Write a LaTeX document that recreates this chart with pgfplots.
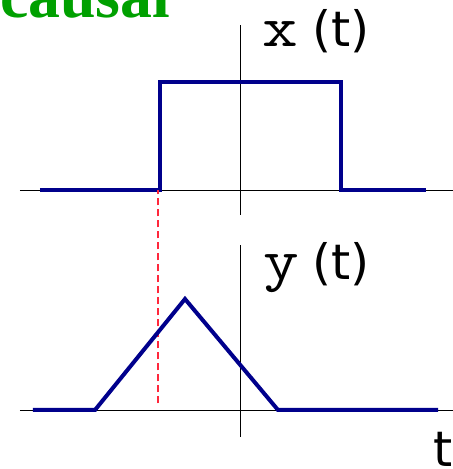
\documentclass[border=0pt]{standalone}
\usepackage{pgfplots}
\pgfplotsset{compat=1.18}
\usepackage{fontspec}
\newfontfamily\titlefont{Liberation Serif}
\newfontfamily\dvs{DejaVu Sans}
\definecolor{navyline}{RGB}{0,0,140}
\definecolor{causalgreen}{RGB}{0,160,0}
\definecolor{dashred}{RGB}{255,40,60}
\pgfplotsset{sigaxis/.style={x=40bp, xmin=-5.5, xmax=5.325,
  axis lines=middle, axis line style={-, black, line width=0.9bp},
  ticks=none, enlargelimits=false, clip=false, anchor=origin}}
\begin{document}
\begin{tikzpicture}
\begin{axis}[sigaxis, y=108bp, ymin=-0.231, ymax=1.528, at={(240bp,279bp)}]
\addplot[navyline, line width=4bp, line join=miter] coordinates {(-5,0) (-2,0) (-2,1) (2.525,1) (2.525,0) (4.65,0)};
\end{axis}
\begin{axis}[sigaxis, y=111bp, ymin=-0.243, ymax=1.486, at={(240bp,59bp)}]
\addplot[dashred, line width=1.5bp, dash pattern=on 7bp off 4bp] coordinates {(-2.05,0.06) (-2.05,1.98)};
\addplot[navyline, line width=4bp, line join=miter] coordinates {(-5.175,0) (-3.625,0) (-1.375,1) (0.95,0) (4.95,0)};
\end{axis}
\node[anchor=base west, inner sep=0pt, text=causalgreen] at (0bp,451bp) {\titlefont\bfseries\fontsize{64}{70}\selectfont causal};
\node[anchor=base, inner sep=0pt] at (280.5bp,422bp) {\scalebox{1.2}[1]{\ttfamily\fontsize{58}{60}\selectfont x}};
\node[anchor=base, inner sep=0pt] at (341bp,422bp) {\dvs\fontsize{49}{52}\selectfont (t)};
\node[anchor=base, inner sep=0pt] at (281bp,189bp) {\scalebox{1.2}[1]{\ttfamily\fontsize{58}{60}\selectfont y}};
\node[anchor=base, inner sep=0pt] at (341bp,189bp) {\dvs\fontsize{49}{52}\selectfont (t)};
\node[anchor=base west, inner sep=0pt] at (433bp,3bp) {\dvs\fontsize{49}{52}\selectfont t};
\pgfresetboundingbox
\useasboundingbox (0bp,0bp) rectangle (453bp,469bp);
\end{tikzpicture}
\end{document}
